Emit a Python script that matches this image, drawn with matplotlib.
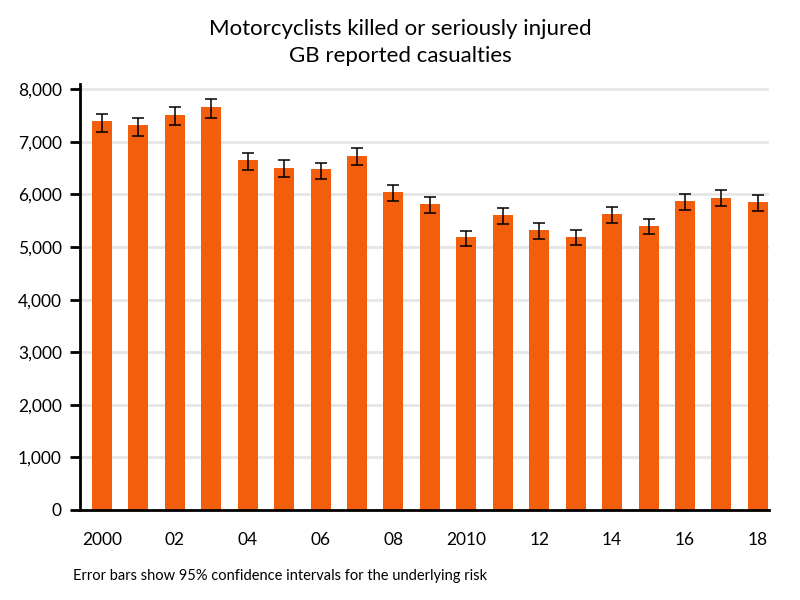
import matplotlib
matplotlib.use("Agg")
import matplotlib.pyplot as plt
import numpy as np

years = list(range(2000, 2019))
values = [7389, 7313, 7510, 7656, 6664, 6511, 6489, 6740, 6051, 5823,
          5194, 5613, 5328, 5194, 5632, 5404, 5880, 5937, 5861]
ci_upper = [7537, 7460, 7656, 7822, 6786, 6647, 6603, 6887, 6179, 5950,
            5303, 5741, 5455, 5322, 5760, 5531, 6006, 6083, 5988]
ci_lower = [7192, 7116, 7326, 7460, 6470, 6323, 6298, 6563, 5874, 5646,
            5017, 5436, 5150, 5036, 5455, 5246, 5703, 5779, 5684]
tick_labels = ["2000", "02", "04", "06", "08", "2010", "12", "14", "16", "18"]
yticks = [0, 1000, 2000, 3000, 4000, 5000, 6000, 7000, 8000]

title = "Motorcyclists killed or seriously injured\nGB reported casualties"
footer = "Error bars show 95% confidence intervals for the underlying risk"

plt.rcParams['font.family'] = ['Lato', 'DejaVu Sans']

fig = plt.figure(figsize=(8, 6), dpi=100)
ax = fig.add_axes([0.1, 0.15, 0.861, 0.71])

x = np.arange(len(years))
vals = np.array(values)
yerr = np.vstack([vals - np.array(ci_lower), np.array(ci_upper) - vals])

ax.bar(x, vals, width=0.55, color="#F35E0C", zorder=2)
ax.errorbar(x, vals, yerr=yerr, fmt="none", ecolor="black", elinewidth=1.1,
            capsize=4.5, capthick=1.1, zorder=3)

ax.set_xlim(-0.6, 18.3)
ax.set_ylim(0, 8100)
ax.set_yticks(yticks)
ax.set_yticklabels([f"{v:,}" for v in yticks], fontsize=12.5)
ax.set_xticks(x[::2])
ax.set_xticklabels(tick_labels, fontsize=12.5)

ax.yaxis.grid(True, color="#E6E6E6", linewidth=2, zorder=0)
ax.set_axisbelow(True)

for s in ["top", "right"]:
    ax.spines[s].set_visible(False)
ax.spines["left"].set_linewidth(2)
ax.spines["bottom"].set_linewidth(2)
ax.tick_params(axis="y", length=7, width=2, pad=6, direction="out")
ax.tick_params(axis="x", length=0, pad=16)

fig.text(0.5, 1 - 19 / 600, title, ha="center", va="top", fontsize=16,
         linespacing=1.45)
fig.text(0.091, 0.04, footer, ha="left", va="center", fontsize=10.5)

fig.savefig("out.png", dpi=100)
